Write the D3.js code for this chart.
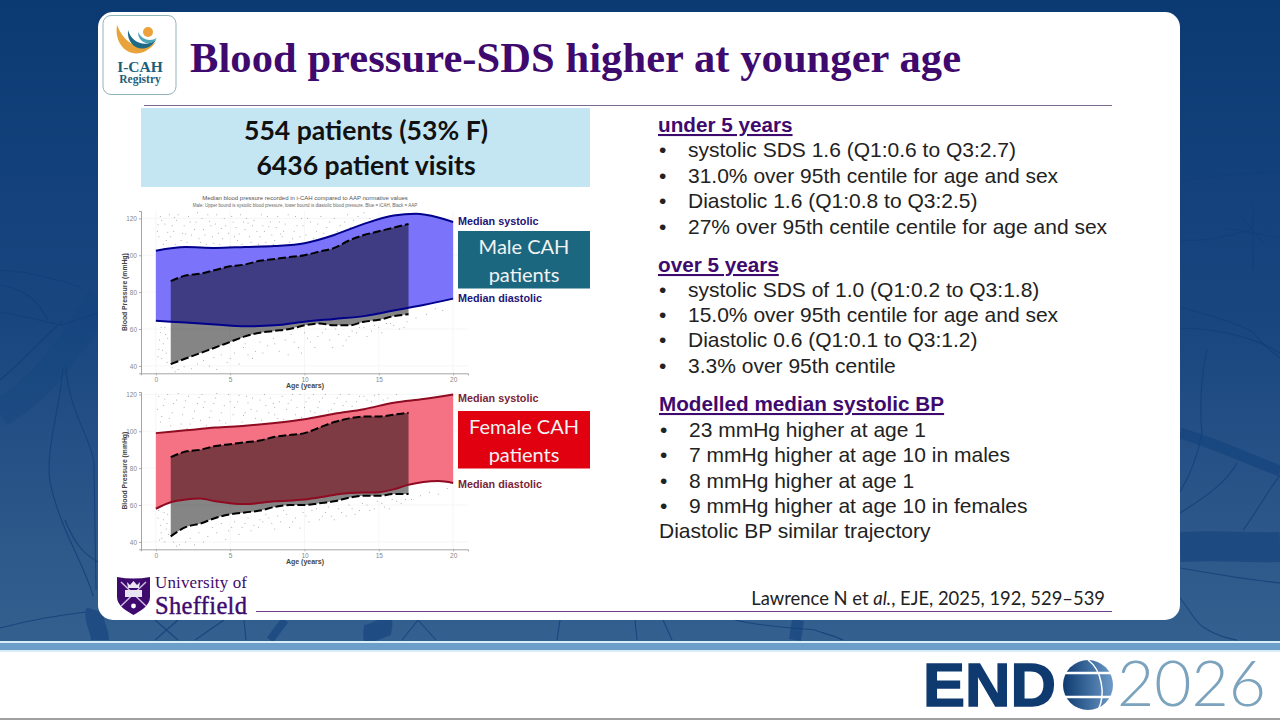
<!DOCTYPE html>
<html>
<head>
<meta charset="utf-8">
<script src="https://cdn.jsdelivr.net/npm/d3@7/dist/d3.min.js"></script>
<style>
  html, body { margin: 0; padding: 0; background: #fff; overflow: hidden; }
  svg { display: block; }
  .body-text { font-family: "Liberation Sans", Arial, sans-serif; font-size: 21px; fill: #222; }
  .heading { font-family: "Liberation Sans", Arial, sans-serif; font-size: 20.7px; fill: #3f0a6e; font-weight: 700; text-decoration: underline; }
  .tick text { font-family: "Liberation Sans", Arial, sans-serif; font-size: 6.5px; fill: #888; }
</style>
</head>
<body>
<div id="chart"></div>
<script>
// values
var ageSys = [0, 2, 4, 6, 8, 10, 12, 14, 16, 17.5, 19, 20];
var maleSys = [102.5, 104.5, 104, 104.5, 105, 106.5, 111, 117, 121.5, 122.5, 120.5, 118];
var ageDia = [0, 2, 4, 6, 8, 10, 12, 14, 16, 18, 20];
var maleDia = [64.5, 63.5, 62.5, 61.5, 62, 64, 65.5, 67, 70, 73, 76.5];

var aapAges = [1, 2, 3, 4, 5, 6, 7, 8, 9, 10, 11, 12, 13, 14, 15, 16, 17];
var maleAapSys = [86, 89, 90, 92, 94, 95, 97, 98, 99, 100, 102, 104, 108, 111, 113, 115, 117];
var maleAapDia = [41, 44, 47, 50, 53, 56, 58, 59, 60, 62, 63, 62, 62, 64, 65, 67, 68];

var femaleAgeSys = [0, 2, 4, 6, 8, 10, 12, 14, 16, 18, 20];
var femaleSys = [99, 100.5, 102, 103, 104.5, 106.5, 109.5, 112, 115.5, 117.5, 120];
var femaleAgeDia = [0, 1, 2, 3, 4, 5, 6, 8, 10, 12, 13, 15, 16, 17, 18, 19, 20];
var femaleDia = [58, 61.5, 63, 63.5, 62, 61, 60.5, 62, 63, 65.5, 66.5, 67, 68.5, 71, 72.5, 73, 72];
var femaleAapSys = [86, 89, 90, 92, 93, 94, 95, 97, 98, 99, 102, 105, 107, 108, 108, 109, 110];
var femaleAapDia = [43, 48, 50, 53, 55, 56, 57, 59, 60, 60, 61, 62, 64, 65, 65, 66, 66];

var xTicks = [0, 5, 10, 15, 20];
var yTicks = [40, 60, 80, 100, 120];

var maleDots = [[0.3,121],[0.6,117],[0.9,122],[1.2,113],[1.4,119],[1.7,108],[1.9,116],[2.2,121],[2.4,111],[2.7,118],[3,107],[3.2,114],[3.5,122],[3.8,110],[4,117],[4.3,106],[4.6,120],[4.9,112],[5.2,118],[5.5,108],[5.7,122],[6,114],[6.3,110],[6.6,119],[6.9,106],[7.2,116],[7.5,121],[7.8,111],[8,108],[8.3,118],[8.6,113],[8.9,122],[9.2,109],[9.5,116],[9.8,120],[10.1,111],[10.4,118],[10.8,113],[11.1,121],[11.5,115],[12,120],[12.4,116],[12.9,122],[13.3,119],[14,123],[0.2,110],[0.5,106],[1,110],[1.6,104],[2.8,123],[3.4,106],[5,105],[6.8,113],[7.4,107],[8.8,106],[0.3,58],[0.5,52],[0.7,47],[0.4,44],[0.6,61],[0.8,55],[0.2,49],[1.1,39],[1.5,38],[2.4,38.5],[3.2,43],[3.6,40],[4.4,46],[4.8,42],[5.3,47],[5.9,50],[6.2,46],[6.7,48],[7,53],[7.5,51],[7.9,55],[8.3,48],[8.7,54],[9.1,57],[9.6,50],[10,58],[10.4,53],[10.9,56],[11.4,60],[11.9,50],[12.3,57],[12.8,54],[13.2,59],[13.7,61],[14.2,56],[14.7,62],[15.2,58],[15.8,63],[16.4,60],[16.9,64],[17.5,66],[18.2,68],[18.8,71],[19.3,70],
  [0.1,113],[0.4,119],[0.7,108],[1.1,116],[1.3,106],[1.5,122],[1.8,112],[2.1,107],[2.3,118],[2.6,114],[2.9,109],[3.1,120],[3.3,111],[3.7,116],[3.9,106.5],[4.1,122],[4.2,112],[4.5,109],[4.7,116],[5.1,121],[5.3,110],[5.4,115],[5.8,106],[5.9,118],[6.1,120],[6.4,107],[6.5,116],[7,110],[7.1,122],[7.3,113],[7.7,118],[7.9,106],[8.1,115],[8.2,121],[8.5,110],[8.7,117],[9,107],[9.3,113],[9.4,121],[9.7,110],[9.9,116],[10.2,120],[10.6,109],[10.9,117],[11.3,112],[11.7,118],[12.2,113],[12.7,118],[13.1,115],[13.6,121],[14.4,120],[0.15,116.5],[0.8,112.5],[1.25,120.5],[2,111.5],[3.6,118.5],[4.4,114.5],[5.6,111.5],[6.2,117.5],[7.6,115.5],[8.4,111.5],[0.25,54],[0.45,48.5],[0.65,57],[0.35,61],[0.15,45],[0.75,42],[1.3,36.8],[1.9,39.5],[2.8,41],[3.9,44.5],[4.1,38],[5,44],[5.6,41],[6,52],[6.5,44],[7.2,47],[8,52],[8.9,46],[9.3,53],[9.8,47],[10.2,55],[10.7,50],[11.2,58],[11.7,54],[12.1,60],[12.6,51],[13,56],[13.5,58],[14,61],[14.5,59],[15,61],[15.5,63],[16,62],[16.7,61]];
var femaleDots = [[0.2,119],[0.5,114],[0.8,120],[1.1,110],[1.4,117],[1.7,104],[1.9,113],[2.2,119],[2.5,107],[2.8,115],[3.1,120],[3.4,103],[3.7,111],[4,118],[4.3,106],[4.6,114],[4.9,120],[5.2,109],[5.5,116],[5.8,105],[6.1,119],[6.4,112],[6.7,107],[7,117],[7.3,120],[7.6,110],[7.9,115],[8.2,107],[8.5,119],[8.8,112],[9.1,117],[9.4,109],[9.7,120],[10,113],[10.3,118],[10.7,110],[11,116],[11.4,120],[11.8,112],[12.2,118],[12.6,114],[13,120],[13.5,116],[14,119],[14.5,116],[15,120],[15.6,118],[16.2,120],[0.4,108],[1,103],[2.1,101.5],[3.3,116],[6,110],[8,113],[0.2,57],[0.5,52],[0.7,47],[0.4,42],[0.8,55],[0.3,49],[0.6,40],[1.2,40],[1.6,38.5],[2.3,42],[2.9,45],[3.2,40],[3.8,48],[4.4,50],[4.9,46],[5.3,51],[5.8,48],[6.2,53],[6.6,49],[7,52],[7.4,55],[7.8,50],[8.2,54],[8.6,57],[9,48],[9.4,53],[9.9,56],[10.3,51],[10.8,58],[11.2,54],[11.6,59],[12,52],[12.5,56],[13,60],[13.4,55],[13.9,61],[14.4,57],[14.9,62],[15.4,59],[15.9,63],[16.5,61],[17.2,63],[17.8,65],[18.4,67],[19,66],[19.6,69],
  [0.1,112],[0.3,105],[0.6,117.5],[0.9,107],[1.2,115],[1.5,120.5],[1.8,109],[2,116.5],[2.3,104],[2.6,111],[2.9,118.5],[3,106],[3.2,113],[3.6,107.5],[3.9,115],[4.1,120.5],[4.4,110],[4.7,104.5],[5,116],[5.3,113],[5.6,119.5],[5.9,108.5],[6.2,115.5],[6.5,118],[6.8,111],[7.1,106],[7.4,114],[7.7,118],[8,109],[8.3,116],[8.6,106.5],[8.9,115],[9.2,120],[9.5,113],[9.8,107.5],[10.1,116],[10.4,111],[10.6,120],[10.9,113],[11.2,118],[11.6,111],[12,115],[12.4,120],[12.8,116],[13.2,113.5],[13.7,119],[14.2,117],[14.7,119.5],[15.3,117],[0.15,53],[0.35,45],[0.55,56],[0.75,50],[0.25,41],[0.85,44],[1.4,37.8],[2,40],[2.6,38.5],[3.5,43],[4.1,45],[4.7,41.5],[5.1,48],[5.6,44],[6,50],[6.4,46],[6.9,48],[7.2,51],[7.6,53],[8,47],[8.4,51],[8.8,55],[9.2,51],[9.7,47.5],[10.1,54],[10.5,57],[11,52],[11.4,56],[11.8,54],[12.3,58],[12.8,54],[13.2,58],[13.7,57],[14.2,60],[14.7,58],[15.2,61],[15.7,58],[16.2,62],[16.8,63]];

var purple = "#3f0a6e";

var svg = d3.select("#chart").append("svg").attr("width", 1280).attr("height", 720);
var defs = svg.append("defs");

var bgGrad = defs.append("linearGradient").attr("id", "bg").attr("x1", 0).attr("y1", 0).attr("x2", 0).attr("y2", 1);
bgGrad.append("stop").attr("offset", "0%").attr("stop-color", "#0b3a73");
bgGrad.append("stop").attr("offset", "50%").attr("stop-color", "#1a4680");
bgGrad.append("stop").attr("offset", "100%").attr("stop-color", "#34608f");

var globeGrad = defs.append("linearGradient").attr("id", "globe").attr("x1", 0).attr("y1", 0).attr("x2", 1).attr("y2", 0);
globeGrad.append("stop").attr("offset", "0%").attr("stop-color", "#0e3a70");
globeGrad.append("stop").attr("offset", "100%").attr("stop-color", "#6c9ac8");

// slide background
svg.append("rect").attr("width", 1280).attr("height", 641).attr("fill", "url(#bg)");

// veins in the background photo
var veins = [
  "M0 270 C30 272 60 280 80 287",
  "M0 312 C25 316 45 322 62 325 L100 312",
  "M0 380 C25 360 45 335 63 321",
  "M0 285 C30 290 40 305 48 320",
  "M63 367 C60 410 45 450 50 482 C60 530 85 565 93 596",
  "M66 367 C68 410 92 440 94 463 L96 590",
  "M65 520 C75 545 85 555 98 562",
  "M1180 181 C1210 176 1250 173 1280 172",
  "M1180 240 C1210 242 1230 235 1253 229 M1253 205 L1253 270 M1225 228 L1280 238 M1240 215 L1265 245",
  "M1180 307 C1210 315 1240 325 1253 332 C1262 345 1270 350 1280 358",
  "M1180 328 C1220 328 1260 340 1280 353",
  "M1207 349 C1200 380 1200 415 1202 433 C1198 455 1190 475 1180 492",
  "M1237 463 C1225 485 1200 500 1180 513",
  "M1280 475 C1265 495 1255 515 1243 530",
  "M1180 568 C1220 575 1250 580 1280 583",
  "M1180 598 C1190 610 1195 622 1203 627 C1215 635 1225 638 1237 640",
  "M0 628 C30 620 60 615 86 612",
  "M155 620 L178 640 M178 620 L155 640",
  "M224 620 L195 640",
  "M244 620 L246 640",
  "M402 640 L418 620 L436 640",
  "M560 620 L557 640",
  "M635 620 L637 640",
  "M663 620 L672 640",
  "M735 620 C770 628 800 628 815 630 C825 634 835 636 843 640"
];
svg.selectAll(".vein").data(veins).enter().append("path")
  .attr("class", "vein")
  .attr("d", function(d) { return d; })
  .attr("fill", "none")
  .attr("stroke", "#123e78")
  .attr("stroke-width", 1.1)
  .attr("opacity", 0.8);

// thick vessels
var vessels = [
  { d: "M0 413 C40 390 70 350 100 298", w: 28 },
  { d: "M1180 433 C1220 445 1250 460 1280 471", w: 11 },
  { d: "M1180 547 C1220 545 1250 548 1280 547", w: 30 },
  { d: "M100 640 C100 630 92 620 95 610", w: 18 },
  { d: "M270 640 L285 620", w: 8 },
  { d: "M378 640 C375 632 380 625 378 620", w: 28 },
  { d: "M795 640 L798 620", w: 12 }
];
svg.selectAll(".vessel").data(vessels).enter().append("path")
  .attr("class", "vessel")
  .attr("d", function(d) { return d.d; })
  .attr("fill", "none")
  .attr("stroke", "#12417c")
  .attr("stroke-width", function(d) { return d.w; })
  .attr("opacity", function(d, i) { return i === 0 ? 0.3 : 0.6; });

// bottom band
svg.append("rect").attr("y", 641).attr("width", 1280).attr("height", 2).attr("fill", "#d8eef6");
svg.append("rect").attr("y", 643).attr("width", 1280).attr("height", 7).attr("fill", "#6d9dc9");
svg.append("rect").attr("y", 650).attr("width", 1280).attr("height", 2).attr("fill", "#d8eef6");
svg.append("rect").attr("y", 718).attr("width", 1280).attr("height", 2).attr("fill", "#a0a0a0");

// white card
svg.append("rect").attr("x", 98).attr("y", 12).attr("width", 1082).attr("height", 608).attr("rx", 15).attr("fill", "#fff");

// I-CAH logo
var logo = svg.append("g");
logo.append("rect").attr("x", 103).attr("y", 15.5).attr("width", 73).attr("height", 79).attr("rx", 8)
  .attr("fill", "#fff").attr("stroke", "#8fb3b8").attr("stroke-width", 1);
logo.append("path").attr("d", "M117 25 C113 50 138 65 156 42 C143 52 125 46 117 25 Z").attr("fill", "#e8a33a");
logo.append("path").attr("d", "M128 30 C126 48 146 56 156 40 C146 47 132 44 128 30 Z").attr("fill", "#1f6a86");
logo.append("path").attr("d", "M138 32 C138 44 152 47 157 38 C150 42 142 40 138 32 Z").attr("fill", "#4ea5b8");
logo.append("circle").attr("cx", 148).attr("cy", 32).attr("r", 5).attr("fill", "#eda23c");
logo.append("text").attr("x", 140).attr("y", 71.5).attr("text-anchor", "middle")
  .attr("font-family", "Liberation Serif").attr("font-weight", 700).attr("font-size", 15.5).attr("fill", "#1c5f7c").text("I-CAH");
logo.append("text").attr("x", 140).attr("y", 83).attr("text-anchor", "middle")
  .attr("font-family", "Liberation Serif").attr("font-weight", 700).attr("font-size", 11.5).attr("fill", "#1c5f7c").text("Registry");

// title
svg.append("text").attr("x", 190).attr("y", 72)
  .attr("font-family", "Liberation Serif").attr("font-weight", 700).attr("font-size", 42.5).attr("fill", purple)
  .attr("textLength", 771).attr("lengthAdjust", "spacing")
  .text("Blood pressure-SDS higher at younger age");
svg.append("line").attr("x1", 144).attr("x2", 1112).attr("y1", 105.5).attr("y2", 105.5).attr("stroke", "#7d6a92").attr("stroke-width", 1.2);

// summary box
svg.append("rect").attr("x", 141).attr("y", 108).attr("width", 449).attr("height", 79).attr("fill", "#c4e6f3");
var summary = ["554 patients (53% F)", "6436 patient visits"];
svg.selectAll(".summary").data(summary).enter().append("text")
  .attr("class", "summary")
  .attr("x", 366)
  .attr("y", function(d, i) { return 140 + i * 34.5; })
  .attr("text-anchor", "middle")
  .attr("font-family", "Lato").attr("font-weight", 700).attr("font-size", 26.6).attr("fill", "#111")
  .text(function(d) { return d; });

// right hand text
var textBlocks = [
  { head: "under 5 years", y: 132, hx: 658, tx: 688, lines: [
    ["systolic SDS 1.6 (Q1:0.6 to Q3:2.7)", 157], ["31.0% over 95th centile for age and sex", 183],
    ["Diastolic 1.6 (Q1:0.8 to Q3:2.5)", 208], ["27% over 95th centile centile for age and sex", 234]] },
  { head: "over 5 years", y: 272, hx: 658, tx: 688, lines: [
    ["systolic SDS of 1.0 (Q1:0.2 to Q3:1.8)", 297], ["15.0% over 95th centile for age and sex", 322],
    ["Diastolic 0.6 (Q1:0.1 to Q3:1.2)", 347], ["3.3% over 95th centile", 373]] },
  { head: "Modelled median systolic BP", y: 411, hx: 659, tx: 689, lines: [
    ["23 mmHg higher at age 1", 437], ["7 mmHg higher at age 10 in males", 462],
    ["8 mmHg higher at age 1", 488], ["9 mmHg higher at age 10 in females", 513]] }
];
textBlocks.forEach(function(b) {
  svg.append("text").attr("class", "heading").attr("x", b.hx).attr("y", b.y).text(b.head);
  b.lines.forEach(function(l) {
    svg.append("text").attr("class", "body-text").attr("x", b.hx + 1).attr("y", l[1]).text("•");
    svg.append("text").attr("class", "body-text").attr("x", b.tx).attr("y", l[1]).text(l[0]);
  });
});
svg.append("text").attr("class", "body-text").attr("x", 659).attr("y", 538).text("Diastolic BP similar trajectory");

// citation
var cite = svg.append("text").attr("x", 1105).attr("y", 605).attr("text-anchor", "end")
  .attr("font-family", "Lato").attr("font-size", 18.4).attr("fill", "#222");
cite.append("tspan").text("Lawrence N et ");
cite.append("tspan").attr("font-style", "italic").text("al.");
cite.append("tspan").text(", EJE, 2025, 192, 529–539");
svg.append("line").attr("x1", 256).attr("x2", 1112).attr("y1", 611.5).attr("y2", 611.5).attr("stroke", "#6b3f8e").attr("stroke-width", 1.1);

// Sheffield logo
var shef = svg.append("g");
shef.append("path").attr("d", "M117 577 C128 579 139 579 150 577 L150 597 C150 606 140 611 133.5 615 C127 611 117 606 117 597 Z").attr("fill", purple);
shef.append("path").attr("d", "M121 582 L146 606 M146 582 L121 606").attr("stroke", "#cdbfe0").attr("stroke-width", 1.5);
shef.append("rect").attr("x", 125).attr("y", 590).attr("width", 17).attr("height", 7).attr("fill", "#e9e4f2");
shef.append("path").attr("d", "M127 582 L130 585 L133.5 581 L137 585 L140 582 L139 588 L128 588 Z").attr("fill", "#e9e4f2");
shef.append("circle").attr("cx", 133.5).attr("cy", 606).attr("r", 2.4).attr("fill", "#fff");
shef.append("text").attr("x", 155).attr("y", 588).attr("font-family", "Liberation Serif").attr("font-size", 17).attr("fill", purple)
  .attr("textLength", 92).text("University of");
shef.append("text").attr("x", 155).attr("y", 613.5).attr("font-family", "Liberation Serif").attr("font-size", 24.5)
  .attr("stroke", purple).attr("stroke-width", 0.4).attr("fill", purple)
  .attr("textLength", 92).text("Sheffield");

// ENDO 2026
var endo = svg.append("g");
endo.append("text").attr("x", 923).attr("y", 706)
  .attr("font-family", "Liberation Sans").attr("font-weight", 700).attr("font-size", 62).attr("fill", "#0f3a70")
  .attr("stroke", "#0f3a70").attr("stroke-width", 1.5)
  .attr("textLength", 133).attr("lengthAdjust", "spacingAndGlyphs").text("END");
endo.append("circle").attr("cx", 1088).attr("cy", 685).attr("r", 25).attr("fill", "url(#globe)");
endo.append("path").attr("d", "M1063 673 H1113 M1063 697 H1113").attr("stroke", "#fff").attr("stroke-width", 2.5);
endo.append("path").attr("d", "M1088 660 C1102 670 1106 695 1098 710").attr("fill", "none").attr("stroke", "#fff").attr("stroke-width", 1.5);
endo.append("text").attr("x", 1117).attr("y", 706)
  .attr("font-family", "Lato").attr("font-weight", 300).attr("font-size", 63).attr("fill", "#7ba3bd")
  .attr("textLength", 149).attr("lengthAdjust", "spacingAndGlyphs").text("2026");

// panel with ribbons, AAP overlay and dots
function drawPanel(opts) {
  var x = d3.scaleLinear().domain([-1, 21]).range([141, 468]);
  var y = d3.scaleLinear().domain(opts.yDomain).range(opts.yRange);
  var g = svg.append("g");

  // grid
  g.selectAll(".gridy").data(yTicks).enter().append("line")
    .attr("x1", x(-1)).attr("x2", x(21))
    .attr("y1", function(d) { return y(d); }).attr("y2", function(d) { return y(d); })
    .attr("stroke", "#f0f0f0").attr("stroke-width", 0.6);
  g.selectAll(".gridx").data(xTicks).enter().append("line")
    .attr("y1", opts.yRange[0]).attr("y2", opts.yRange[1])
    .attr("x1", function(d) { return x(d); }).attr("x2", function(d) { return x(d); })
    .attr("stroke", "#f0f0f0").attr("stroke-width", 0.6);

  g.selectAll(".dot").data(opts.dots).enter().append("circle")
    .attr("class", "dot")
    .attr("cx", function(d) { return x(d[0]); })
    .attr("cy", function(d) { return y(d[1]); })
    .attr("r", 0.5)
    .attr("fill", "#999");

  // blue/red ribbon between the two medians
  var sysFn = d3.scaleLinear().domain(opts.sysAges).range(opts.sys);
  var diaFn = d3.scaleLinear().domain(opts.diaAges).range(opts.dia);
  var allAges = Array.from(new Set(opts.sysAges.concat(opts.diaAges))).sort(d3.ascending);
  var ribbon = d3.area().curve(d3.curveMonotoneX)
    .x(function(d) { return x(d); })
    .y0(function(d) { return y(diaFn(d)); })
    .y1(function(d) { return y(sysFn(d)); });
  g.append("path").datum(allAges).attr("d", ribbon).attr("fill", opts.fill);

  // AAP ribbon
  var aapArea = d3.area().curve(d3.curveMonotoneX)
    .x(function(d) { return x(d.age); })
    .y0(function(d) { return y(d.lo); })
    .y1(function(d) { return y(d.hi); });
  var aapRows = aapAges.map(function(a, i) { return { age: a, hi: opts.aapSys[i], lo: opts.aapDia[i] }; });
  g.append("path").datum(aapRows).attr("d", aapArea).attr("fill", "rgba(0,0,0,0.48)");

  var dashed = d3.line().curve(d3.curveMonotoneX).x(function(d) { return x(d[0]); }).y(function(d) { return y(d[1]); });
  [opts.aapSys, opts.aapDia].forEach(function(vals) {
    g.append("path").datum(aapAges.map(function(a, i) { return [a, vals[i]]; }))
      .attr("d", dashed).attr("fill", "none").attr("stroke", "#000").attr("stroke-width", 2).attr("stroke-dasharray", "8 3");
  });
  g.append("path").datum(opts.sysAges.map(function(a, i) { return [a, opts.sys[i]]; }))
    .attr("d", dashed).attr("fill", "none").attr("stroke", opts.line).attr("stroke-width", 2);
  g.append("path").datum(opts.diaAges.map(function(a, i) { return [a, opts.dia[i]]; }))
    .attr("d", dashed).attr("fill", "none").attr("stroke", opts.line).attr("stroke-width", 2);

  // axes
  var ax = g.append("g").attr("transform", "translate(0," + opts.yRange[0] + ")")
    .call(d3.axisBottom(x).tickValues(xTicks).tickSize(2).tickPadding(2));
  var ay = g.append("g").attr("transform", "translate(" + x(-1) + ",0)")
    .call(d3.axisLeft(y).tickValues(yTicks).tickSize(2).tickPadding(2));
  [ax, ay].forEach(function(a) {
    a.selectAll(".domain").attr("stroke", "#a5a5a5").attr("stroke-width", 1);
    a.selectAll(".tick line").attr("stroke", "#aaa");
  });

  g.append("text").attr("x", 305).attr("y", opts.yRange[0] + 14.5).attr("text-anchor", "middle")
    .attr("font-family", "Liberation Sans").attr("font-weight", 700).attr("font-size", 7).attr("fill", "#444").text("Age (years)");
  g.append("text").attr("transform", "translate(127," + ((opts.yRange[0] + opts.yRange[1]) / 2) + ") rotate(-90)").attr("text-anchor", "middle")
    .attr("font-family", "Liberation Sans").attr("font-weight", 700).attr("font-size", 6.8).attr("fill", "#444").text("Blood Pressure (mmHg)");

  // side labels and box
  var labels = [["Median systolic", opts.sysLabelY], ["Median diastolic", opts.diaLabelY]];
  labels.forEach(function(l) {
    g.append("text").attr("x", 458).attr("y", l[1])
      .attr("font-family", "Liberation Sans").attr("font-weight", 700).attr("font-size", 10.8).attr("fill", opts.labelColor).text(l[0]);
  });
  g.append("rect").attr("x", 458).attr("y", opts.boxY).attr("width", 132).attr("height", 57.5).attr("fill", opts.boxFill);
  opts.boxText.forEach(function(t, i) {
    g.append("text").attr("x", 524).attr("y", opts.boxY + 23 + i * 27.5).attr("text-anchor", "middle")
      .attr("font-family", "Lato").attr("font-size", 20).attr("fill", "#f2f2f2").text(t);
  });
}

svg.append("text").attr("x", 305).attr("y", 200).attr("text-anchor", "middle")
  .attr("font-family", "Liberation Sans").attr("font-size", 6).attr("fill", "#555")
  .text("Median blood pressure recorded in i-CAH compared to AAP normative values");
svg.append("text").attr("x", 305).attr("y", 207).attr("text-anchor", "middle")
  .attr("font-family", "Liberation Sans").attr("font-size", 4.5).attr("fill", "#666")
  .text("Male: Upper bound is systolic blood pressure, lower bound is diastolic blood pressure. Blue = iCAH, Black = AAP");

drawPanel({
  yDomain: [36, 124], yRange: [373.3, 211],
  sysAges: ageSys, sys: maleSys, diaAges: ageDia, dia: maleDia,
  aapSys: maleAapSys, aapDia: maleAapDia, dots: maleDots,
  fill: "#7b74fb", line: "#00008b", labelColor: "#1c1478",
  sysLabelY: 225, diaLabelY: 302, boxY: 231, boxFill: "#1c6780", boxText: ["Male CAH", "patients"]
});
drawPanel({
  yDomain: [36, 121.3], yRange: [549.3, 392],
  sysAges: femaleAgeSys, sys: femaleSys, diaAges: femaleAgeDia, dia: femaleDia,
  aapSys: femaleAapSys, aapDia: femaleAapDia, dots: femaleDots,
  fill: "#f47283", line: "#8e0b22", labelColor: "#7a1f3a",
  sysLabelY: 402, diaLabelY: 488, boxY: 411, boxFill: "#e00010", boxText: ["Female CAH", "patients"]
});
</script>
</body>
</html>
